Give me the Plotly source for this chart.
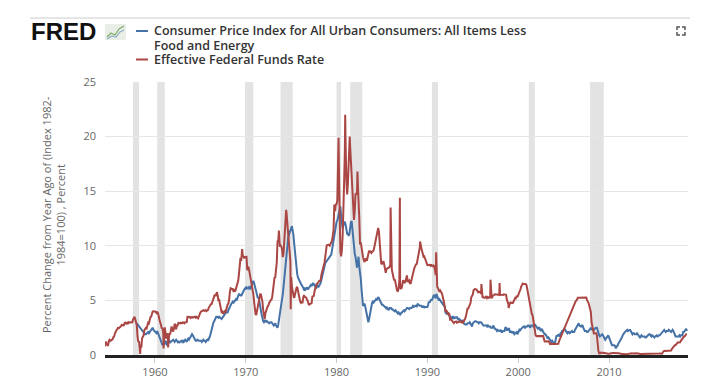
import plotly.graph_objects as go

# ---------------- data ----------------
# Effective Federal Funds Rate, monthly, starting July 1954
ff_start_year = 1954
ff_start_month = 7
ff_values = [
    0.80, 1.22, 1.06, 0.85, 0.83, 1.28,
    1.39, 1.29, 1.35, 1.43, 1.43, 1.64, 1.68, 1.96, 2.18, 2.24, 2.35, 2.48,
    2.45, 2.50, 2.50, 2.62, 2.75, 2.71, 2.75, 2.73, 2.95, 2.96, 2.88, 2.94,
    2.84, 3.00, 2.96, 3.00, 3.00, 3.00, 2.99, 3.24, 3.47, 3.50, 3.28, 2.98,
    2.72, 1.67, 1.20, 1.26, 0.63, 0.93, 0.68, 1.53, 1.76, 1.80, 2.27, 2.42,
    2.48, 2.43, 2.80, 2.96, 2.90, 3.39, 3.47, 3.50, 3.76, 3.98, 4.00, 3.99,
    3.99, 3.97, 3.84, 3.92, 3.85, 3.32, 3.23, 2.98, 2.60, 2.47, 2.44, 1.98,
    1.45, 2.54, 2.02, 1.49, 1.98, 1.73, 1.17, 2.00, 1.88, 2.26, 2.61, 2.33,
    2.15, 2.37, 2.85, 2.78, 2.36, 2.68, 2.71, 2.93, 2.90, 2.90, 2.94, 2.93,
    2.92, 3.00, 2.98, 2.90, 3.00, 2.99, 3.02, 3.49, 3.48, 3.50, 3.48, 3.38,
    3.48, 3.48, 3.43, 3.47, 3.50, 3.50, 3.42, 3.50, 3.45, 3.36, 3.52, 3.85,
    3.90, 3.98, 4.04, 4.09, 4.10, 4.04, 4.09, 4.12, 4.01, 4.08, 4.10, 4.32,
    4.42, 4.60, 4.65, 4.67, 4.90, 5.17, 5.30, 5.53, 5.40, 5.53, 5.76, 5.40,
    4.94, 5.00, 4.53, 4.05, 3.94, 3.98, 3.79, 3.90, 3.99, 3.88, 4.13, 4.51,
    4.60, 4.71, 5.05, 5.76, 6.11, 6.07, 6.02, 6.03, 5.78, 5.91, 5.82, 6.02,
    6.30, 6.61, 6.79, 7.41, 8.67, 8.90, 8.61, 9.19, 9.15, 9.00, 8.85, 8.97,
    8.98, 8.98, 7.76, 8.10, 7.95, 7.61, 7.21, 6.61, 6.29, 6.20, 5.60, 4.90,
    4.14, 3.72, 3.71, 4.16, 4.63, 4.91, 5.31, 5.56, 5.55, 5.20, 4.91, 4.14,
    3.50, 3.29, 3.83, 4.17, 4.27, 4.46, 4.55, 4.80, 4.87, 5.04, 5.06, 5.33,
    5.94, 6.58, 7.09, 7.12, 7.84, 8.49, 10.40, 10.50, 10.78, 10.01, 10.03, 9.95,
    9.65, 8.97, 9.35, 10.51, 11.31, 11.93, 12.92, 12.01, 11.34, 10.06, 9.45, 8.53,
    7.13, 6.24, 5.54, 5.49, 5.22, 5.55, 6.10, 6.14, 6.24, 5.82, 5.22, 5.20,
    4.87, 4.77, 4.84, 4.82, 5.29, 5.48, 5.31, 5.29, 5.25, 5.03, 4.95, 4.65,
    4.61, 4.68, 4.69, 4.73, 5.35, 5.39, 5.42, 5.90, 6.14, 6.47, 6.51, 6.56,
    6.70, 6.78, 6.79, 6.89, 7.36, 7.60, 7.81, 8.04, 8.45, 8.96, 9.76, 10.03,
    10.07, 10.06, 10.09, 10.01, 10.24, 10.29, 10.47, 10.94, 11.43, 13.77, 13.18, 13.78,
    13.82, 14.13, 17.19, 17.61, 10.98, 9.47, 9.03, 9.61, 10.87, 12.81, 15.85, 18.90,
    19.08, 15.93, 14.70, 15.72, 18.52, 19.10, 19.04, 17.82, 15.87, 15.08, 13.31, 12.37,
    13.22, 14.78, 14.68, 14.94, 14.45, 14.15, 12.59, 10.12, 10.31, 9.71, 9.20, 8.95,
    8.68, 8.51, 8.77, 8.80, 8.63, 8.98, 9.37, 9.56, 9.45, 9.48, 9.34, 9.47,
    9.56, 9.59, 9.91, 10.29, 10.32, 11.06, 11.23, 11.64, 11.30, 9.99, 9.43, 8.38,
    8.35, 8.50, 8.58, 8.27, 7.97, 7.53, 7.88, 7.90, 7.92, 7.99, 8.05, 8.27,
    8.14, 7.86, 7.48, 6.99, 6.85, 6.92, 6.56, 6.17, 5.89, 5.85, 6.04, 6.91,
    6.43, 6.10, 6.13, 6.37, 6.85, 6.73, 6.58, 6.73, 7.22, 7.29, 6.69, 6.77,
    6.83, 6.58, 6.58, 6.87, 7.09, 7.51, 7.75, 8.01, 8.19, 8.30, 8.35, 8.76,
    9.12, 9.36, 9.85, 9.84, 9.81, 9.53, 9.24, 8.99, 9.02, 8.84, 8.55, 8.45,
    8.23, 8.24, 8.28, 8.26, 8.18, 8.29, 8.15, 8.13, 8.20, 8.11, 7.81, 7.31,
    6.91, 6.25, 6.12, 5.91, 5.78, 5.90, 5.82, 5.66, 5.45, 5.21, 4.81, 4.43,
    4.03, 4.06, 3.98, 3.73, 3.82, 3.76, 3.25, 3.30, 3.22, 3.10, 3.09, 2.92,
    3.02, 3.03, 3.07, 2.96, 3.00, 3.04, 3.06, 3.03, 3.09, 2.99, 3.02, 2.96,
    3.05, 3.25, 3.34, 3.56, 4.01, 4.25, 4.26, 4.47, 4.73, 4.76, 5.29, 5.45,
    5.53, 5.92, 5.98, 6.05, 6.01, 6.00, 5.85, 5.74, 5.80, 5.76, 5.80, 5.60,
    5.56, 5.22, 5.31, 5.22, 5.24, 5.27, 5.40, 5.22, 5.30, 5.24, 5.31, 5.29,
    5.25, 5.19, 5.39, 5.51, 5.50, 5.56, 5.52, 5.54, 5.54, 5.50, 5.52, 5.50,
    5.56, 5.51, 5.49, 5.45, 5.49, 5.56, 5.54, 5.55, 5.51, 5.07, 4.83, 4.68,
    4.63, 4.76, 4.81, 4.74, 4.74, 4.76, 4.99, 5.07, 5.22, 5.20, 5.42, 5.30,
    5.45, 5.73, 5.85, 6.02, 6.27, 6.53, 6.54, 6.50, 6.52, 6.51, 6.51, 6.40,
    5.98, 5.49, 5.31, 4.80, 4.21, 3.97, 3.77, 3.65, 3.07, 2.49, 2.09, 1.82,
    1.73, 1.74, 1.73, 1.75, 1.75, 1.75, 1.73, 1.74, 1.75, 1.75, 1.34, 1.24,
    1.24, 1.26, 1.25, 1.26, 1.26, 1.22, 1.01, 1.03, 1.01, 1.01, 1.00, 0.98,
    1.00, 1.01, 1.00, 1.00, 1.00, 1.03, 1.26, 1.43, 1.61, 1.76, 1.93, 2.16,
    2.28, 2.50, 2.63, 2.79, 3.00, 3.04, 3.26, 3.50, 3.62, 3.78, 4.00, 4.16,
    4.29, 4.49, 4.59, 4.79, 4.94, 4.99, 5.24, 5.25, 5.25, 5.25, 5.25, 5.24,
    5.25, 5.26, 5.26, 5.25, 5.25, 5.25, 5.26, 5.02, 4.94, 4.76, 4.49, 4.24,
    3.94, 2.98, 2.61, 2.28, 1.98, 2.00, 2.01, 2.00, 1.81, 0.97, 0.39, 0.16,
    0.15, 0.22, 0.18, 0.15, 0.18, 0.21, 0.16, 0.16, 0.15, 0.12, 0.12, 0.12,
    0.11, 0.13, 0.16, 0.20, 0.20, 0.18, 0.18, 0.19, 0.19, 0.19, 0.19, 0.18,
    0.17, 0.16, 0.14, 0.10, 0.09, 0.09, 0.07, 0.10, 0.08, 0.07, 0.08, 0.07,
    0.08, 0.10, 0.13, 0.14, 0.16, 0.16, 0.16, 0.13, 0.14, 0.16, 0.16, 0.16,
    0.14, 0.15, 0.14, 0.15, 0.11, 0.09, 0.09, 0.08, 0.08, 0.09, 0.08, 0.09,
    0.07, 0.07, 0.08, 0.09, 0.09, 0.10, 0.09, 0.09, 0.09, 0.09, 0.09, 0.12,
    0.11, 0.11, 0.11, 0.12, 0.12, 0.13, 0.13, 0.14, 0.14, 0.12, 0.12, 0.24,
    0.34, 0.38, 0.36, 0.37, 0.37, 0.38, 0.39, 0.40, 0.40, 0.40, 0.41, 0.54,
    0.65, 0.66, 0.79, 0.90, 0.91, 1.04, 1.15, 1.16, 1.15, 1.15, 1.16, 1.30,
    1.41, 1.42, 1.51, 1.69, 1.70, 1.82, 1.91, 1.91,
]
# short-lived weekly spikes visible in the chart (decimal year, percent)
ff_spike_x = [1958.38, 1960.95, 1961.45, 1969.60, 1973.65, 1974.45, 1974.95,
              1980.22, 1980.95, 1981.45, 1982.30, 1985.95, 1986.97, 1989.20,
              1990.97, 1995.95, 1996.95, 1997.95, 1998.95]
ff_spike_y = [0.10, 0.60, 0.70, 9.70, 11.40, 13.30, 4.20,
              19.90, 22.00, 20.00, 16.80, 13.50, 14.40, 10.40,
              9.40, 6.50, 6.90, 6.60, 4.30]

# Core CPI, percent change from year ago, monthly, starting January 1958
cpi_start_year = 1958
cpi_start_month = 1
cpi_values = [
    2.9, 2.8, 2.8, 2.6, 2.6, 2.5, 2.4, 2.3, 2.2, 2.0, 2.0, 1.9,
    1.9, 2.0, 2.1, 2.1, 2.0, 2.1, 2.2, 2.3, 2.4, 2.5, 2.3, 2.2,
    2.2, 2.0, 2.0, 2.2, 2.0, 1.8, 1.6, 1.5, 1.3, 1.1, 0.9, 1.0,
    1.0, 1.2, 1.3, 1.0, 0.9, 1.2, 1.4, 1.3, 1.1, 1.2, 1.3, 1.3,
    1.4, 1.3, 1.2, 1.3, 1.4, 1.3, 1.2, 1.3, 1.1, 1.2, 1.3, 1.3,
    1.2, 1.3, 1.2, 1.3, 1.4, 1.3, 1.2, 1.4, 1.5, 1.4, 1.5, 1.6,
    1.7, 1.9, 1.8, 1.6, 1.5, 1.4, 1.3, 1.3, 1.4, 1.3, 1.3, 1.3,
    1.3, 1.3, 1.2, 1.3, 1.4, 1.3, 1.3, 1.2, 1.3, 1.4, 1.3, 1.4,
    1.6, 1.8, 2.0, 2.3, 2.6, 2.9, 3.1, 3.3, 3.4, 3.5, 3.5, 3.4,
    3.4, 3.5, 3.4, 3.3, 3.3, 3.4, 3.5, 3.7, 3.8, 3.8, 3.9, 3.9,
    3.9, 4.1, 4.3, 4.4, 4.5, 4.7, 4.8, 4.9, 4.8, 4.9, 5.0, 5.1,
    5.0, 5.3, 5.5, 5.6, 5.5, 5.5, 5.4, 5.6, 5.6, 5.8, 6.0, 6.1,
    6.0, 6.2, 6.1, 6.1, 6.1, 6.3, 6.0, 6.2, 6.5, 6.6, 6.8, 6.6,
    6.3, 6.0, 5.5, 5.3, 5.2, 5.3, 5.0, 4.7, 4.1, 3.7, 3.3, 3.1,
    3.0, 3.1, 3.2, 3.0, 3.1, 3.0, 3.0, 2.9, 3.0, 3.0, 3.0, 2.9,
    2.8, 2.7, 2.8, 2.9, 2.7, 2.6, 2.5, 2.8, 3.2, 3.7, 4.1, 4.7,
    5.0, 5.6, 6.3, 7.1, 8.1, 8.8, 9.5, 10.2, 10.7, 11.0, 11.3, 11.3,
    11.6, 11.8, 11.5, 11.0, 10.2, 9.3, 8.5, 7.9, 7.4, 7.1, 6.9, 6.7,
    6.6, 6.5, 6.4, 6.2, 6.0, 6.0, 6.1, 6.0, 6.1, 6.2, 6.0, 6.1,
    6.1, 6.2, 6.4, 6.3, 6.5, 6.6, 6.4, 6.5, 6.2, 6.1, 6.3, 6.4,
    6.2, 6.3, 6.5, 6.6, 6.9, 7.3, 7.6, 7.8, 8.1, 8.4, 8.5, 8.5,
    8.6, 8.8, 8.9, 9.0, 9.0, 9.2, 9.6, 10.1, 10.6, 11.0, 11.6, 12.0,
    12.2, 12.3, 12.7, 13.0, 13.4, 13.6, 12.7, 11.9, 11.6, 11.9, 12.0, 12.2,
    11.9, 11.3, 11.1, 11.1, 10.9, 11.1, 12.0, 12.2, 12.2, 11.4, 10.6, 9.6,
    9.3, 9.0, 8.4, 8.0, 8.4, 9.0, 8.1, 7.6, 7.0, 6.0, 4.8, 4.5,
    4.6, 4.7, 4.4, 4.0, 3.5, 3.0, 3.0, 3.3, 3.7, 4.1, 4.3, 4.8,
    4.9, 4.8, 4.9, 5.0, 5.1, 5.0, 5.2, 5.3, 5.2, 5.0, 4.9, 4.7,
    4.6, 4.6, 4.5, 4.5, 4.4, 4.4, 4.2, 4.3, 4.2, 4.1, 4.3, 4.3,
    4.3, 4.2, 4.2, 4.1, 4.0, 4.0, 4.1, 4.0, 3.9, 3.8, 3.9, 3.8,
    3.7, 3.8, 3.9, 4.0, 4.1, 4.1, 4.0, 4.1, 4.3, 4.3, 4.3, 4.2,
    4.2, 4.3, 4.3, 4.3, 4.4, 4.5, 4.4, 4.5, 4.5, 4.5, 4.4, 4.7,
    4.6, 4.6, 4.5, 4.5, 4.5, 4.4, 4.4, 4.5, 4.3, 4.4, 4.4, 4.4,
    4.4, 4.6, 4.9, 4.8, 5.0, 5.1, 5.0, 5.3, 5.4, 5.5, 5.3, 5.2,
    5.6, 5.4, 5.2, 5.0, 5.1, 5.0, 4.8, 4.7, 4.6, 4.6, 4.5, 4.4,
    3.9, 3.8, 3.9, 3.8, 3.7, 3.7, 3.5, 3.4, 3.3, 3.5, 3.5, 3.3,
    3.5, 3.4, 3.4, 3.5, 3.3, 3.2, 3.3, 3.2, 3.1, 3.1, 3.1, 3.2,
    2.9, 2.8, 2.8, 2.8, 2.8, 2.9, 2.9, 2.9, 3.0, 2.9, 2.8, 2.6,
    2.9, 3.0, 3.0, 3.1, 3.1, 3.0, 3.0, 3.0, 2.9, 3.0, 3.0, 3.0,
    2.9, 2.7, 2.7, 2.7, 2.7, 2.7, 2.7, 2.6, 2.7, 2.6, 2.6, 2.6,
    2.5, 2.5, 2.5, 2.7, 2.5, 2.4, 2.4, 2.3, 2.2, 2.3, 2.2, 2.2,
    2.2, 2.3, 2.1, 2.1, 2.2, 2.2, 2.2, 2.5, 2.5, 2.3, 2.3, 2.4,
    2.4, 2.1, 2.1, 2.2, 2.0, 2.1, 2.1, 1.9, 2.0, 2.1, 2.1, 1.9,
    2.0, 2.2, 2.4, 2.3, 2.4, 2.5, 2.5, 2.6, 2.6, 2.5, 2.6, 2.6,
    2.6, 2.7, 2.7, 2.6, 2.5, 2.7, 2.7, 2.7, 2.6, 2.6, 2.8, 2.7,
    2.6, 2.6, 2.4, 2.5, 2.5, 2.3, 2.2, 2.4, 2.2, 2.2, 2.0, 1.9,
    1.9, 1.8, 1.7, 1.5, 1.6, 1.5, 1.5, 1.3, 1.2, 1.3, 1.1, 1.1,
    1.1, 1.2, 1.6, 1.8, 1.7, 1.9, 1.8, 1.7, 2.0, 2.0, 2.2, 2.2,
    2.3, 2.4, 2.3, 2.2, 2.2, 2.0, 2.1, 2.1, 2.0, 2.1, 2.1, 2.2,
    2.1, 2.1, 2.1, 2.3, 2.4, 2.6, 2.7, 2.8, 2.9, 2.7, 2.6, 2.6,
    2.7, 2.7, 2.5, 2.3, 2.2, 2.2, 2.2, 2.1, 2.1, 2.2, 2.3, 2.4,
    2.5, 2.3, 2.4, 2.3, 2.3, 2.4, 2.5, 2.5, 2.5, 2.2, 2.0, 1.8,
    1.7, 1.8, 1.8, 1.9, 1.8, 1.7, 1.5, 1.4, 1.5, 1.7, 1.7, 1.8,
    1.6, 1.3, 1.1, 0.9, 0.9, 0.9, 0.9, 0.9, 0.8, 0.6, 0.8, 0.8,
    1.0, 1.1, 1.2, 1.3, 1.5, 1.6, 1.8, 2.0, 2.0, 2.1, 2.2, 2.2,
    2.3, 2.2, 2.3, 2.3, 2.3, 2.2, 2.1, 1.9, 2.0, 2.0, 1.9, 1.9,
    1.9, 2.0, 1.9, 1.7, 1.7, 1.6, 1.7, 1.8, 1.7, 1.7, 1.7, 1.7,
    1.6, 1.6, 1.7, 1.8, 1.9, 1.9, 1.9, 1.7, 1.7, 1.8, 1.7, 1.6,
    1.6, 1.7, 1.8, 1.8, 1.7, 1.8, 1.8, 1.8, 1.9, 1.9, 2.0, 2.1,
    2.2, 2.3, 2.2, 2.1, 2.2, 2.2, 2.2, 2.3, 2.2, 2.1, 2.1, 2.2,
    2.3, 2.2, 2.0, 1.9, 1.7, 1.7, 1.7, 1.7, 1.7, 1.8, 1.7, 1.8,
    1.8, 1.8, 2.1, 2.1, 2.2, 2.3, 2.4, 2.2,
]

# NBER recessions (start, end) in decimal years
rec_start = [1957.58, 1960.25, 1969.92, 1973.83, 1980.00, 1981.50, 1990.50, 2001.17, 2007.92]
rec_end = [1958.25, 1961.08, 1970.83, 1975.17, 1980.50, 1982.83, 1991.17, 2001.83, 2009.42]

x_tick_vals = [1960, 1970, 1980, 1990, 2000, 2010]
y_tick_vals = [0, 5, 10, 15, 20, 25]

series_names = ["Consumer Price Index for All Urban Consumers: All Items Less Food and Energy",
                "Effective Federal Funds Rate"]
legend_lines = ["Consumer Price Index for All Urban Consumers: All Items Less",
                "Food and Energy",
                "Effective Federal Funds Rate"]
y_title = "Percent Change from Year Ago of (Index 1982-<br>1984=100) , Percent"

BLUE = "#4572a7"
RED = "#aa4643"

# ---------------- build x values ----------------
ff_x = [ff_start_year + (ff_start_month - 1 + i) / 12 for i in range(len(ff_values))]
pts = sorted(list(zip(ff_x, ff_values)) + list(zip(ff_spike_x, ff_spike_y)))
ff_xx = [p[0] for p in pts]
ff_yy = [p[1] for p in pts]
cpi_x = [cpi_start_year + (cpi_start_month - 1 + i) / 12 for i in range(len(cpi_values))]

# ---------------- figure ----------------
W, H = 720, 385
L, R, T, B = 105, 32, 82, 30
pw, ph = W - L - R, H - T - B


def px(xp):
    return (xp - L) / pw


def py(yp):
    return (H - B - yp) / ph


fig = go.Figure()
fig.add_trace(go.Scatter(x=cpi_x, y=cpi_values, mode="lines", name=series_names[0],
                         line=dict(color=BLUE, width=2), showlegend=False))
fig.add_trace(go.Scatter(x=ff_xx, y=ff_yy, mode="lines", name=series_names[1],
                         line=dict(color=RED, width=2), showlegend=False))

shapes = []
for s, e in zip(rec_start, rec_end):
    shapes.append(dict(type="rect", xref="x", yref="paper", x0=s, x1=e, y0=0, y1=1,
                       fillcolor="#e3e3e3", line=dict(width=0), layer="below"))

# top thin rule
shapes.append(dict(type="line", xref="paper", yref="paper", x0=px(30), x1=px(690),
                   y0=py(18), y1=py(18), line=dict(color="#cccccc", width=1)))
# legend line samples
shapes.append(dict(type="line", xref="paper", yref="paper", x0=px(136), x1=px(148),
                   y0=py(31), y1=py(31), line=dict(color=BLUE, width=2)))
shapes.append(dict(type="line", xref="paper", yref="paper", x0=px(136), x1=px(148),
                   y0=py(59.5), y1=py(59.5), line=dict(color=RED, width=2)))
# FRED logo icon
shapes.append(dict(type="rect", xref="paper", yref="paper", x0=px(105), x1=px(126),
                   y0=py(40), y1=py(24), fillcolor="#e9eee6", line=dict(width=0)))
shapes.append(dict(type="path", xref="paper", yref="paper",
                   path="M %f %f L %f %f L %f %f L %f %f L %f %f" % (
                       px(107), py(37), px(111), py(33), px(115), py(35), px(119), py(29), px(124), py(26)),
                   line=dict(color="#7fae6a", width=1.2)))
shapes.append(dict(type="path", xref="paper", yref="paper",
                   path="M %f %f L %f %f L %f %f L %f %f L %f %f" % (
                       px(107), py(39), px(112), py(36), px(116), py(37), px(120), py(32), px(124), py(30)),
                   line=dict(color="#8fb0c8", width=1.2)))
# fullscreen icon
for (ax, ay, dx, dy) in [(677, 27, 1, 1), (685, 27, -1, 1), (677, 35, 1, -1), (685, 35, -1, -1)]:
    shapes.append(dict(type="path", xref="paper", yref="paper",
                       path="M %f %f L %f %f L %f %f" % (
                           px(ax), py(ay + 3 * dy), px(ax), py(ay), px(ax + 3 * dx), py(ay)),
                       line=dict(color="#555555", width=1.5)))

legend_font = dict(family="Open Sans", size=12.5, color="#333333", weight=600)
annotations = [
    dict(text="<b>FRED</b>", x=px(29), y=py(31), xref="paper", yref="paper",
         xanchor="left", yanchor="middle", showarrow=False,
         font=dict(family="Liberation Sans", size=24, color="#111111")),
]
for txt, yy in zip(legend_lines, [30.5, 45.5, 59.5]):
    annotations.append(dict(text=txt, x=px(152), y=py(yy), xref="paper", yref="paper",
                            xanchor="left", yanchor="middle", showarrow=False,
                            font=legend_font))
annotations.append(dict(text=y_title, x=px(53), y=py(215), xref="paper", yref="paper",
                        xanchor="center", yanchor="middle", showarrow=False, textangle=-90,
                        font=dict(family="Open Sans", size=11, color="#666666")))

fig.update_layout(
    width=W, height=H,
    margin=dict(l=L, r=R, t=T, b=B, pad=0),
    paper_bgcolor="white", plot_bgcolor="white",
    shapes=shapes, annotations=annotations,
    xaxis=dict(range=[1954.5, 2018.7], tickvals=x_tick_vals, ticktext=[str(v) for v in x_tick_vals],
               showgrid=False, zeroline=False, showline=True, linecolor="#222222", linewidth=2.5,
               ticks="outside", ticklen=5, tickcolor="#cccccc", tickwidth=1, automargin=False,
               tickfont=dict(family="Open Sans", size=11, color="#666666")),
    yaxis=dict(range=[0, 25], tickvals=y_tick_vals, showgrid=True, gridcolor="#e6e6e6", gridwidth=1,
               zeroline=False, showline=False, ticks="", ticklabelstandoff=8, automargin=False,
               tickfont=dict(family="Open Sans", size=11, color="#666666")),
    font=dict(family="Open Sans"),
)

fig.write_html("out.html", config={"displayModeBar": False},
               post_script="document.body.style.margin='0px';")
